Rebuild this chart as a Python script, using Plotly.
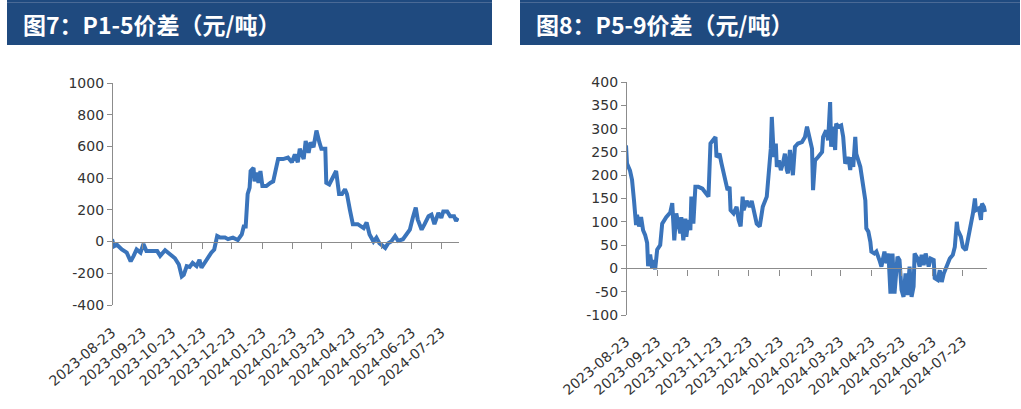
import plotly.graph_objects as go

# ---------------- data ----------------
p15_dates = [
    "2023-08-23", "2023-08-25", "2023-08-28", "2023-09-02", "2023-09-07", "2023-09-11",
    "2023-09-14", "2023-09-17", "2023-09-21", "2023-09-24", "2023-09-27", "2023-10-01",
    "2023-10-08", "2023-10-11", "2023-10-16", "2023-10-21", "2023-10-26", "2023-10-30",
    "2023-11-02", "2023-11-04", "2023-11-07", "2023-11-10", "2023-11-13", "2023-11-17",
    "2023-11-20", "2023-11-22", "2023-11-25", "2023-11-29", "2023-12-02", "2023-12-05",
    "2023-12-08", "2023-12-11", "2023-12-16", "2023-12-19", "2023-12-24", "2023-12-29",
    "2024-01-02", "2024-01-04", "2024-01-06", "2024-01-08", "2024-01-10", "2024-01-11",
    "2024-01-14", "2024-01-15", "2024-01-17", "2024-01-19", "2024-01-21", "2024-01-23",
    "2024-01-27", "2024-01-31", "2024-02-03", "2024-02-06", "2024-02-08", "2024-02-13",
    "2024-02-18", "2024-02-22", "2024-02-25", "2024-02-28", "2024-03-01", "2024-03-05",
    "2024-03-07", "2024-03-10", "2024-03-12", "2024-03-15", "2024-03-16", "2024-03-18",
    "2024-03-21", "2024-03-23", "2024-03-27", "2024-03-28", "2024-03-31", "2024-04-04",
    "2024-04-07", "2024-04-10", "2024-04-13", "2024-04-16", "2024-04-18", "2024-04-21",
    "2024-04-24", "2024-04-29", "2024-05-05", "2024-05-08", "2024-05-11", "2024-05-15",
    "2024-05-18", "2024-05-21", "2024-05-23", "2024-05-27", "2024-05-30", "2024-06-02",
    "2024-06-06", "2024-06-09", "2024-06-14", "2024-06-18", "2024-06-21", "2024-06-24",
    "2024-06-27", "2024-06-29", "2024-07-03", "2024-07-06", "2024-07-10", "2024-07-13",
    "2024-07-16", "2024-07-20", "2024-07-23", "2024-07-25", "2024-07-29", "2024-08-01",
    "2024-08-05", "2024-08-07", "2024-08-09",
]
p15_values = [
    15, -30, -20, -50, -70, -125,
    -90, -50, -70, -15, -60, -60,
    -60, -90, -55, -80, -105, -145,
    -220, -210, -155, -160, -135, -155,
    -115, -165, -135, -105, -70, -50,
    35, 25, 25, 15, 25, 10,
    45, 95, 95, 300, 340, 445,
    465, 380, 435, 370, 445, 350,
    350, 370, 380, 465, 520, 520,
    530, 500, 550, 500, 585, 520,
    635, 560, 625, 595, 635, 700,
    625, 585, 585, 370, 360, 405,
    445, 300, 300, 330, 300, 200,
    110, 110, 85, 120, 45, 0,
    25, -10, -20, -40, -10, 0,
    35, 5, 15, 45, 75, 150,
    215, 140, 75, 110, 160, 170,
    110, 180, 150, 190, 190, 160,
    160, 130, 150,
]

p59_dates = [
    "2023-08-23", "2023-08-24", "2023-08-27", "2023-08-29", "2023-08-31", "2023-09-02",
    "2023-09-03", "2023-09-05", "2023-09-07", "2023-09-09", "2023-09-11", "2023-09-13",
    "2023-09-14", "2023-09-16", "2023-09-18", "2023-09-19", "2023-09-21", "2023-09-23",
    "2023-09-26", "2023-09-28", "2023-10-02", "2023-10-06", "2023-10-08", "2023-10-10",
    "2023-10-12", "2023-10-14", "2023-10-16", "2023-10-17", "2023-10-19", "2023-10-21",
    "2023-10-22", "2023-10-24", "2023-10-26", "2023-10-27", "2023-10-29", "2023-10-31",
    "2023-11-03", "2023-11-07", "2023-11-10", "2023-11-13", "2023-11-15", "2023-11-17",
    "2023-11-20", "2023-11-21", "2023-11-24", "2023-11-26", "2023-11-28", "2023-11-30",
    "2023-12-02", "2023-12-04", "2023-12-05", "2023-12-08", "2023-12-11", "2023-12-13",
    "2023-12-15", "2023-12-17", "2023-12-18", "2023-12-21", "2023-12-24", "2023-12-26",
    "2023-12-29", "2023-12-31", "2024-01-03", "2024-01-06", "2024-01-10", "2024-01-12",
    "2024-01-14", "2024-01-15", "2024-01-16", "2024-01-17", "2024-01-19", "2024-01-20",
    "2024-01-22", "2024-01-24", "2024-01-26", "2024-01-28", "2024-01-30", "2024-01-31",
    "2024-02-02", "2024-02-04", "2024-02-05", "2024-02-07", "2024-02-10", "2024-02-14",
    "2024-02-17", "2024-02-19", "2024-02-21", "2024-02-24", "2024-02-25", "2024-02-27",
    "2024-03-01", "2024-03-05", "2024-03-06", "2024-03-09", "2024-03-11", "2024-03-13",
    "2024-03-14", "2024-03-16", "2024-03-18", "2024-03-19", "2024-03-21", "2024-03-24",
    "2024-03-26", "2024-03-28", "2024-03-31", "2024-04-02", "2024-04-03", "2024-04-05",
    "2024-04-07", "2024-04-08", "2024-04-10", "2024-04-12", "2024-04-15", "2024-04-17",
    "2024-04-18", "2024-04-20", "2024-04-22", "2024-04-23", "2024-04-26", "2024-04-28",
    "2024-05-01", "2024-05-03", "2024-05-06", "2024-05-08", "2024-05-10", "2024-05-12",
    "2024-05-14", "2024-05-16", "2024-05-19", "2024-05-21", "2024-05-23", "2024-05-25",
    "2024-05-27", "2024-05-29", "2024-05-31", "2024-06-02", "2024-06-04", "2024-06-05",
    "2024-06-08", "2024-06-10", "2024-06-12", "2024-06-14", "2024-06-16", "2024-06-19",
    "2024-06-21", "2024-06-24", "2024-06-25", "2024-06-28", "2024-06-30", "2024-07-02",
    "2024-07-04", "2024-07-07", "2024-07-10", "2024-07-13", "2024-07-15", "2024-07-17",
    "2024-07-18", "2024-07-21", "2024-07-23", "2024-07-26", "2024-07-28", "2024-07-31",
    "2024-08-02", "2024-08-04", "2024-08-05", "2024-08-08", "2024-08-10", "2024-08-11",
    "2024-08-13", "2024-08-14",
]
p59_values = [
    264, 225, 210, 190, 145, 93,
    115, 90, 110, 82, 72, 55,
    5, 30, 0, 18, -2, 40,
    50, 96, 110, 120, 140, 60,
    118, 96, 75, 110, 60, 107,
    68, 104, 82, 154, 96, 175,
    175, 171, 164, 154, 268, 275,
    282, 239, 246, 225, 204, 189,
    168, 175, 125, 118, 132, 104,
    90, 154, 125, 145, 132, 145,
    118, 96, 90, 132, 154, 211,
    257, 325, 282, 239, 268, 218,
    232, 211, 225, 246, 211, 204,
    254, 225, 200, 261, 268, 271,
    282, 304, 286, 257, 168, 232,
    239, 250, 282, 296, 275, 357,
    261, 304, 254, 311, 304, 307,
    282, 225, 239, 211, 239, 218,
    282, 246, 232, 218, 175, 146,
    86, 79, 57, 36, 32, 36,
    18, 4, 36, 11, 32, -54,
    32, -54, 25, 18, -46, -61,
    -11, -57, 4, -61, -39, 32,
    21, 4, 29, 7, 32, 4,
    21, 18, -21, -25, -4, -29,
    -11, 4, 21, 29, 46, 100,
    82, 68, 46, 39, 61, 89,
    118, 150, 125, 129, 104, 139,
    132, 121,
]

month_ticks = [
    "2023-08-23", "2023-09-23", "2023-10-23", "2023-11-23", "2023-12-23", "2024-01-23",
    "2024-02-23", "2024-03-23", "2024-04-23", "2024-05-23", "2024-06-23", "2024-07-23",
]
p15_yticks = [-400, -200, 0, 200, 400, 600, 800, 1000]
p59_yticks = [-100, -50, 0, 50, 100, 150, 200, 250, 300, 350, 400]
titles = ["图7：P1-5价差（元/吨）", "图8：P5-9价差（元/吨）"]

# ---------------- layout helpers ----------------
W, H = 1021, 409
BAR = "#1f4a7f"
LINE = "#3a74bb"
AX = "#8c8c8c"
TXT = "#333333"
TICKFONT = dict(family="DejaVu Sans, Arial", size=14, color=TXT)


def fx(px):
    return px / W


def fy(py):
    return 1 - py / H


panels = [
    dict(x0=112, x1=459, yt=83, yb=305, yr=[-400, 1000], xend="2024-08-10", lab=321,
         bx0=7, bx1=492, dates=p15_dates, vals=p15_values, yt_vals=p15_yticks),
    dict(x0=626, x1=987, yt=82, yb=315, yr=[-100, 400], xend="2024-08-16", lab=330,
         bx0=520, bx1=1020, dates=p59_dates, vals=p59_values, yt_vals=p59_yticks),
]

fig = go.Figure()
layout = dict(
    width=W, height=H, margin=dict(l=0, r=0, t=0, b=0, autoexpand=False),
    paper_bgcolor="white", plot_bgcolor="rgba(0,0,0,0)", showlegend=False,
)
shapes = []
annotations = []

for i, p in enumerate(panels):
    n = i + 1
    xa = "x" if n == 1 else f"x{n}"
    ya = "y" if n == 1 else f"y{n}"
    xrange = [month_ticks[0], p["xend"]]
    dom_x = [fx(p["x0"]), fx(p["x1"])]
    dom_y = [fy(p["yb"]), fy(p["yt"])]
    zero_paper = dom_y[0] + (0 - p["yr"][0]) / (p["yr"][1] - p["yr"][0]) * (dom_y[1] - dom_y[0])

    fig.add_trace(go.Scatter(
        x=p["dates"], y=p["vals"], mode="lines", xaxis=xa, yaxis=ya,
        line=dict(color=LINE, width=4), hoverinfo="skip",
    ))
    fig.add_trace(go.Scatter(
        x=[month_ticks[0]], y=[0], mode="markers", marker=dict(opacity=0),
        xaxis=f"x{n + 2}", yaxis=ya, hoverinfo="skip",
    ))

    xkey = "xaxis" if n == 1 else f"xaxis{n}"
    ykey = "yaxis" if n == 1 else f"yaxis{n}"
    layout[xkey] = dict(
        domain=dom_x, range=xrange, type="date", anchor="free", automargin=False,
        position=fy(p["lab"]), showline=False, ticks="", showgrid=False, zeroline=False,
        tickmode="array", tickvals=month_ticks, tickformat="%Y-%m-%d", tickangle=-40,
        tickfont=TICKFONT,
    )
    layout[f"xaxis{n + 2}"] = dict(
        domain=dom_x, range=xrange, type="date", anchor="free", overlaying=xa,
        automargin=False,
        position=zero_paper, showline=True, linecolor=AX, linewidth=1.2,
        ticks="outside", ticklen=6, tickwidth=1.2, tickcolor=AX, showticklabels=False,
        showgrid=False, zeroline=False, tickmode="array", tickvals=month_ticks,
    )
    layout[ykey] = dict(
        domain=dom_y, range=p["yr"], anchor="free", position=dom_x[0], automargin=False,
        showline=True, linecolor=AX, linewidth=1.2, ticks="outside", ticklen=5,
        tickwidth=1.2, tickcolor=AX, showgrid=False, zeroline=False,
        tickmode="array", tickvals=p["yt_vals"], ticktext=[str(v) for v in p["yt_vals"]],
        tickfont=TICKFONT,
    )

    shapes.append(dict(type="rect", xref="paper", yref="paper",
                       x0=fx(p["bx0"]), x1=fx(p["bx1"]), y0=fy(45), y1=fy(0),
                       fillcolor=BAR, line=dict(width=0), layer="below"))
    shapes.append(dict(type="line", xref="paper", yref="paper",
                       x0=fx(p["bx0"]), x1=fx(p["bx1"]), y0=fy(2.5), y1=fy(2.5),
                       line=dict(color="#4a6a96", width=1)))
    annotations.append(dict(
        text=f"<b>{titles[i]}</b>", xref="paper", yref="paper",
        x=fx(p["bx0"] + 14), y=fy(24), xanchor="left", yanchor="middle", showarrow=False,
        font=dict(family="Noto Sans CJK SC", size=23, color="white"),
    ))

layout["shapes"] = shapes
layout["annotations"] = annotations
fig.update_layout(**layout)
fig.write_html("out.html")
